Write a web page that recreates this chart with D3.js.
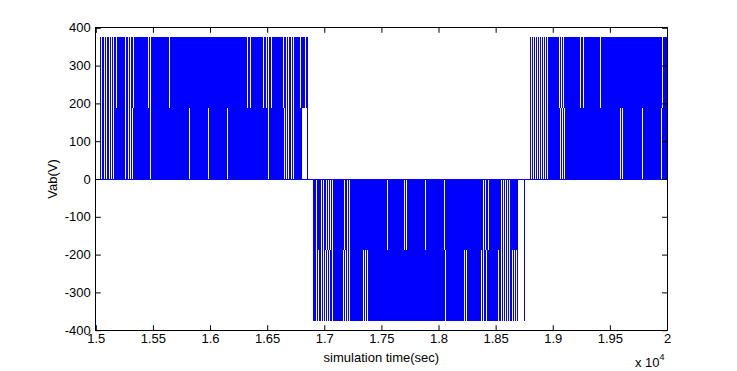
<!DOCTYPE html>
<html>
<head>
<meta charset="utf-8">
<script src="https://cdn.jsdelivr.net/npm/d3@7"></script>
<style>
body { margin: 0; background: #fff; }
svg text { font-family: Arial, "Liberation Sans", sans-serif; font-size: 13px; fill: #000; }
</style>
</head>
<body>
<script>
'use strict';

// Tick values, both axes.
var xTicks = [1.5, 1.55, 1.6, 1.65, 1.7, 1.75, 1.8, 1.85, 1.9, 1.95, 2];
var yTicks = [-400, -300, -200, -100, 0, 100, 200, 300, 400];

// Voltage levels of the multilevel output (inner and outer step).
var levels = [188, 376];

// One entry per half cycle (time in units of 1e4 s).
var cycleStart = [1.5041, 1.6904, 1.8801];
var cycleEnd = [1.6853, 1.8751, 2.0];
var cycleSign = [1, -1, 1];
var innerFillEnd = [1.6809, 1.8696, 2.0];
var outerFillEnd = [1.6853, 1.8693, 2.0];

// Instants where the switching pauses.
var innerSlits = [
    [1.5054, 1.5074, 1.5095, 1.5116, 1.5136, 1.5157, 1.5264, 1.5284, 1.5305, 1.5323,
     1.5477, 1.5818, 1.5985, 1.6151, 1.6516, 1.6650, 1.6671, 1.6691, 1.6711, 1.6732],
    [1.6928, 1.6977, 1.6997, 1.7016, 1.7035, 1.7054, 1.7074, 1.7181, 1.7201, 1.7220,
     1.7552, 1.7705, 1.7720, 1.7884, 1.8051, 1.8396, 1.8415, 1.8434,
     1.8547, 1.8566, 1.8586, 1.8605, 1.8624],
    [1.8816, 1.8833, 1.8851, 1.8868, 1.8886, 1.8903, 1.8921, 1.8938, 1.8956,
     1.9070, 1.9087, 1.9105, 1.9595, 1.9612, 1.9787, 1.9954]
];
var outerSlits = [
    [1.5054, 1.5074, 1.5095, 1.5116, 1.5136, 1.5157, 1.5177, 1.5264, 1.5284, 1.5305, 1.5326,
     1.5463, 1.5479, 1.5641, 1.6326, 1.6350, 1.6472, 1.6496, 1.6516, 1.6540,
     1.6647, 1.6668, 1.6689, 1.6709, 1.6729, 1.6794, 1.6834],
    [1.6934, 1.6953, 1.6972, 1.6992, 1.7011, 1.7030, 1.7049, 1.7069,
     1.7164, 1.7183, 1.7202, 1.7222, 1.7342, 1.7361, 1.7380, 1.8057, 1.8229, 1.8247,
     1.8378, 1.8397, 1.8416, 1.8529, 1.8548, 1.8568, 1.8587, 1.8606, 1.8625, 1.8645,
     1.8664, 1.8683],
    [1.8816, 1.8833, 1.8851, 1.8868, 1.8886, 1.8903, 1.8921, 1.8938, 1.8956,
     1.9061, 1.9078, 1.9096, 1.9247, 1.9265, 1.9422, 1.9959]
];

var width = 737;
var height = 371;
var plot = {left: 95.8, right: 667, top: 27.8, bottom: 330.2};
var blue = '#0000ff';

var x = d3.scaleLinear().domain([1.5, 2]).range([plot.left, plot.right]);
var y = d3.scaleLinear().domain([-400, 400]).range([plot.bottom, plot.top]);

var svg = d3.select('body').append('svg')
    .attr('width', width)
    .attr('height', height);

var trace = svg.append('g')
    .attr('shape-rendering', 'crispEdges');

// Build the band rectangles and slits for every half cycle.
var bands = [];
var slits = [];
cycleStart.forEach(function(start, i) {
    var s = cycleSign[i];
    bands.push({x0: start, x1: innerFillEnd[i], v0: 0, v1: s * levels[0]});
    bands.push({x0: start, x1: outerFillEnd[i], v0: s * levels[0], v1: s * levels[1]});
    innerSlits[i].forEach(function(t) {
        slits.push({t: t, v0: 0, v1: s * levels[0]});
    });
    outerSlits[i].forEach(function(t) {
        slits.push({t: t, v0: s * levels[0], v1: s * levels[1]});
    });
});

trace.selectAll('rect.band')
    .data(bands)
    .enter().append('rect')
    .attr('class', 'band')
    .attr('x', function(d) {return x(d.x0);})
    .attr('width', function(d) {return x(d.x1) - x(d.x0);})
    .attr('y', function(d) {return y(Math.max(d.v0, d.v1));})
    .attr('height', function(d) {return Math.abs(y(d.v0) - y(d.v1));})
    .attr('fill', blue);

trace.selectAll('rect.slit')
    .data(slits)
    .enter().append('rect')
    .attr('class', 'slit')
    .attr('x', function(d) {return x(d.t) - 0.5;})
    .attr('width', 1)
    .attr('y', function(d) {return y(Math.max(d.v0, d.v1));})
    .attr('height', function(d) {return Math.abs(y(d.v0) - y(d.v1));})
    .attr('fill', '#fff');

// Edges of each half cycle: jump up at the start, back to zero at the end.
var edges = [];
cycleStart.forEach(function(start, i) {
    edges.push({t: start, v: cycleSign[i] * levels[1]});
    edges.push({t: cycleEnd[i], v: cycleSign[i] * levels[1]});
});
trace.selectAll('line.edge')
    .data(edges)
    .enter().append('line')
    .attr('class', 'edge')
    .attr('x1', function(d) {return x(d.t);})
    .attr('x2', function(d) {return x(d.t);})
    .attr('y1', y(0))
    .attr('y2', function(d) {return y(d.v);})
    .attr('stroke', blue)
    .attr('stroke-width', 1);

// Zero level runs under the whole trace.
trace.append('line')
    .attr('x1', x(1.5))
    .attr('x2', x(2))
    .attr('y1', y(0))
    .attr('y2', y(0))
    .attr('stroke', blue)
    .attr('stroke-width', 1);

// Axes: ticks point inward on all four sides, box drawn separately.
function tidy(g) {
    g.select('.domain').remove();
    g.selectAll('.tick line').attr('stroke', '#000');
}

svg.append('g')
    .attr('transform', 'translate(0,' + plot.bottom + ')')
    .call(d3.axisBottom(x).tickValues(xTicks).tickSizeInner(-5).tickSizeOuter(0).tickPadding(4)
        .tickFormat(function(d) {return String(+d.toFixed(2));}))
    .call(tidy);

svg.append('g')
    .attr('transform', 'translate(0,' + plot.top + ')')
    .call(d3.axisTop(x).tickValues(xTicks).tickSizeInner(-5).tickSizeOuter(0).tickFormat(''))
    .call(tidy);

svg.append('g')
    .attr('transform', 'translate(' + plot.left + ',0)')
    .call(d3.axisLeft(y).tickValues(yTicks).tickSizeInner(-5).tickSizeOuter(0).tickPadding(5)
        .tickFormat(function(d) {return String(d);}))
    .call(tidy);

svg.append('g')
    .attr('transform', 'translate(' + plot.right + ',0)')
    .call(d3.axisRight(y).tickValues(yTicks).tickSizeInner(-5).tickSizeOuter(0).tickFormat(''))
    .call(tidy);

svg.selectAll('.tick text')
    .attr('font-family', null)
    .attr('font-size', null)
    .attr('fill', '#000');

svg.append('rect')
    .attr('x', plot.left)
    .attr('y', plot.top)
    .attr('width', plot.right - plot.left)
    .attr('height', plot.bottom - plot.top)
    .attr('fill', 'none')
    .attr('stroke', '#000')
    .attr('shape-rendering', 'crispEdges');

// Axis titles and the exponent note.
svg.append('text')
    .attr('x', (plot.left + plot.right) / 2)
    .attr('y', 362)
    .attr('text-anchor', 'middle')
    .text('simulation time(sec)');

svg.append('text')
    .attr('transform', 'translate(57,' + y(0) + ') rotate(-90)')
    .attr('text-anchor', 'middle')
    .text('Vab(V)');

var expo = svg.append('text')
    .attr('x', 635)
    .attr('y', 367);
expo.append('tspan').text('x 10');
expo.append('tspan')
    .attr('dy', -7)
    .attr('font-size', '9px')
    .text('4');
</script>
</body>
</html>
